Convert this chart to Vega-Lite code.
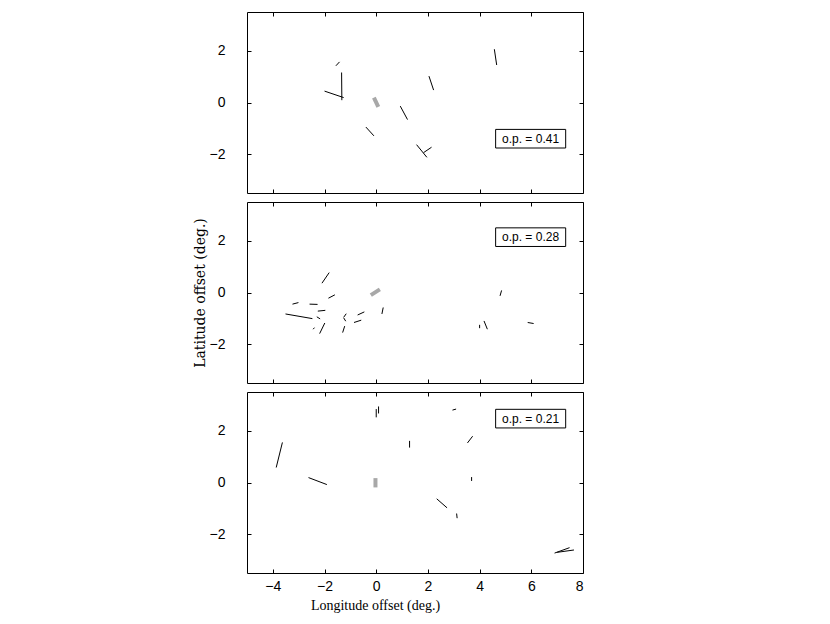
{
  "$schema": "https://vega.github.io/schema/vega-lite/v6.json",
  "background": "white",
  "padding": {"left": 192, "top": 11, "right": 5, "bottom": 5},
  "spacing": 7,
  "config": {
    "view": {"stroke": "black", "strokeWidth": 1},
    "axis": {
      "grid": false,
      "domain": false,
      "tickColor": "black",
      "tickSize": -4,
      "tickWidth": 1,
      "labelFont": "Liberation Sans",
      "labelFontSize": 14,
      "labelColor": "black",
      "titleColor": "black",
      "titleFontWeight": "normal"
    }
  },
  "datasets": {
    "segs": [
      {"panel": 1, "kind": "star", "x": -1.56, "y": 1.42, "x2": -1.42, "y2": 1.57},
      {"panel": 1, "kind": "star", "x": -1.34, "y": 1.16, "x2": -1.33, "y2": 0.09},
      {"panel": 1, "kind": "star", "x": -2.0, "y": 0.44, "x2": -1.26, "y2": 0.19},
      {"panel": 1, "kind": "star", "x": 2.04, "y": 1.02, "x2": 2.22, "y2": 0.48},
      {"panel": 1, "kind": "star", "x": 4.57, "y": 2.06, "x2": 4.66, "y2": 1.45},
      {"panel": 1, "kind": "star", "x": 0.93, "y": -0.14, "x2": 1.21, "y2": -0.66},
      {"panel": 1, "kind": "star", "x": -0.4, "y": -0.95, "x2": -0.09, "y2": -1.29},
      {"panel": 1, "kind": "star", "x": 1.56, "y": -1.63, "x2": 1.96, "y2": -2.12},
      {"panel": 1, "kind": "star", "x": 1.83, "y": -1.94, "x2": 2.14, "y2": -1.73},
      {"panel": 1, "kind": "ref", "x": -0.09, "y": 0.19, "x2": 0.08, "y2": -0.17},
      {"panel": 2, "kind": "star", "x": -2.10, "y": 0.36, "x2": -1.82, "y2": 0.77},
      {"panel": 2, "kind": "star", "x": -1.85, "y": -0.22, "x2": -1.60, "y2": -0.09},
      {"panel": 2, "kind": "star", "x": -3.24, "y": -0.45, "x2": -3.01, "y2": -0.39},
      {"panel": 2, "kind": "star", "x": -2.58, "y": -0.45, "x2": -2.27, "y2": -0.46},
      {"panel": 2, "kind": "star", "x": -3.51, "y": -0.83, "x2": -2.47, "y2": -1.01},
      {"panel": 2, "kind": "star", "x": -2.26, "y": -0.72, "x2": -1.97, "y2": -0.69},
      {"panel": 2, "kind": "star", "x": -2.30, "y": -0.94, "x2": -2.17, "y2": -1.02},
      {"panel": 2, "kind": "star", "x": -2.19, "y": -1.59, "x2": -1.99, "y2": -1.18},
      {"panel": 2, "kind": "star", "x": -2.44, "y": -1.42, "x2": -2.39, "y2": -1.36},
      {"panel": 2, "kind": "star", "x": -1.16, "y": -0.82, "x2": -1.26, "y2": -0.96},
      {"panel": 2, "kind": "star", "x": -1.26, "y": -0.98, "x2": -1.18, "y2": -1.11},
      {"panel": 2, "kind": "star", "x": -1.30, "y": -1.55, "x2": -1.22, "y2": -1.30},
      {"panel": 2, "kind": "star", "x": -0.72, "y": -0.87, "x2": -0.46, "y2": -0.75},
      {"panel": 2, "kind": "star", "x": -0.86, "y": -1.16, "x2": -0.58, "y2": -1.07},
      {"panel": 2, "kind": "star", "x": 0.22, "y": -0.83, "x2": 0.27, "y2": -0.58},
      {"panel": 2, "kind": "star", "x": 4.79, "y": -0.13, "x2": 4.85, "y2": 0.08},
      {"panel": 2, "kind": "star", "x": 4.0, "y": -1.38, "x2": 4.0, "y2": -1.25},
      {"panel": 2, "kind": "star", "x": 4.17, "y": -1.10, "x2": 4.30, "y2": -1.42},
      {"panel": 2, "kind": "star", "x": 5.86, "y": -1.16, "x2": 6.09, "y2": -1.20},
      {"panel": 2, "kind": "ref", "x": -0.21, "y": -0.10, "x2": 0.14, "y2": 0.12},
      {"panel": 3, "kind": "star", "x": -3.87, "y": 0.58, "x2": -3.63, "y2": 1.55},
      {"panel": 3, "kind": "star", "x": -2.62, "y": 0.19, "x2": -1.91, "y2": -0.08},
      {"panel": 3, "kind": "star", "x": 0.0, "y": 2.52, "x2": 0.0, "y2": 2.84},
      {"panel": 3, "kind": "star", "x": 0.09, "y": 2.67, "x2": 0.09, "y2": 2.94},
      {"panel": 3, "kind": "star", "x": 1.29, "y": 1.35, "x2": 1.29, "y2": 1.61},
      {"panel": 3, "kind": "star", "x": 2.95, "y": 2.80, "x2": 3.09, "y2": 2.84},
      {"panel": 3, "kind": "star", "x": 3.53, "y": 1.53, "x2": 3.73, "y2": 1.79},
      {"panel": 3, "kind": "star", "x": 3.69, "y": 0.21, "x2": 3.69, "y2": 0.06},
      {"panel": 3, "kind": "star", "x": 2.34, "y": -0.63, "x2": 2.74, "y2": -0.98},
      {"panel": 3, "kind": "star", "x": 3.11, "y": -1.20, "x2": 3.13, "y2": -1.38},
      {"panel": 3, "kind": "star", "x": 6.90, "y": -2.73, "x2": 7.48, "y2": -2.52},
      {"panel": 3, "kind": "star", "x": 7.0, "y": -2.70, "x2": 7.65, "y2": -2.61},
      {"panel": 3, "kind": "ref", "x": -0.03, "y": 0.17, "x2": -0.03, "y2": -0.19}
    ],
    "boxes": [
      {"panel": 1, "label": "o.p. = 0.41", "x": 4.62, "x2": 7.33, "y": -1.04, "y2": -1.76, "cx": 5.97, "cy": -1.40},
      {"panel": 2, "label": "o.p. = 0.28", "x": 4.62, "x2": 7.33, "y": 2.50, "y2": 1.78, "cx": 5.97, "cy": 2.14},
      {"panel": 3, "label": "o.p. = 0.21", "x": 4.62, "x2": 7.33, "y": 2.83, "y2": 2.11, "cx": 5.97, "cy": 2.47}
    ]
  },
  "vconcat": [
    {
      "width": 336, "height": 181,
      "resolve": {"axis": {"x": "independent", "y": "independent"}},
      "layer": [
        {
          "data": {"name": "segs"},
          "transform": [{"filter": "datum.panel == 1 && datum.kind == 'star'"}],
          "mark": {"type": "rule", "color": "black", "strokeWidth": 1},
          "encoding": {
            "x": {"field": "x", "type": "quantitative", "scale": {"domain": [-5, 8], "nice": false, "zero": false}, "axis": {"values": [-4, -2, 0, 2, 4, 6, 8], "labels": false, "title": null, "orient": "bottom"}},
            "y": {"field": "y", "type": "quantitative", "scale": {"domain": [-3.5, 3.5], "nice": false, "zero": false}, "axis": {"values": [-2, 0, 2], "labelPadding": 26, "title": null, "orient": "left"}},
            "x2": {"field": "x2"},
            "y2": {"field": "y2"}
          }
        },
        {
          "data": {"name": "segs"},
          "transform": [{"filter": "datum.panel == 1 && datum.kind == 'ref'"}],
          "mark": {"type": "rule", "color": "#a8a8a8", "strokeWidth": 4, "strokeCap": "butt"},
          "encoding": {
            "x": {"field": "x", "type": "quantitative", "axis": {"values": [-4, -2, 0, 2, 4, 6, 8], "labels": false, "title": null, "orient": "top"}},
            "y": {"field": "y", "type": "quantitative", "axis": {"values": [-2, 0, 2], "labels": false, "title": null, "orient": "right"}},
            "x2": {"field": "x2"},
            "y2": {"field": "y2"}
          }
        },
        {
          "data": {"name": "boxes"},
          "transform": [{"filter": "datum.panel == 1"}],
          "mark": {"type": "rect", "fill": "white", "stroke": "black", "strokeWidth": 1},
          "encoding": {
            "x": {"field": "x", "type": "quantitative", "axis": null},
            "x2": {"field": "x2"},
            "y": {"field": "y", "type": "quantitative", "axis": null},
            "y2": {"field": "y2"}
          }
        },
        {
          "data": {"name": "boxes"},
          "transform": [{"filter": "datum.panel == 1"}],
          "mark": {"type": "text", "font": "Liberation Sans", "fontSize": 12, "color": "black", "align": "center", "baseline": "middle"},
          "encoding": {
            "x": {"field": "cx", "type": "quantitative", "axis": null},
            "y": {"field": "cy", "type": "quantitative", "axis": null},
            "text": {"field": "label"}
          }
        }
      ]
    },
    {
      "width": 336, "height": 181,
      "resolve": {"axis": {"x": "independent", "y": "independent"}},
      "layer": [
        {
          "data": {"name": "segs"},
          "transform": [{"filter": "datum.panel == 2 && datum.kind == 'star'"}],
          "mark": {"type": "rule", "color": "black", "strokeWidth": 1},
          "encoding": {
            "x": {"field": "x", "type": "quantitative", "scale": {"domain": [-5, 8], "nice": false, "zero": false}, "axis": {"values": [-4, -2, 0, 2, 4, 6, 8], "labels": false, "title": null, "orient": "bottom"}},
            "y": {"field": "y", "type": "quantitative", "scale": {"domain": [-3.5, 3.5], "nice": false, "zero": false}, "axis": {"values": [-2, 0, 2], "labelPadding": 26, "title": "Latitude offset (deg.)", "titleFont": "DejaVu Serif", "titleFontSize": 14, "titlePadding": 2, "orient": "left"}},
            "x2": {"field": "x2"},
            "y2": {"field": "y2"}
          }
        },
        {
          "data": {"name": "segs"},
          "transform": [{"filter": "datum.panel == 2 && datum.kind == 'ref'"}],
          "mark": {"type": "rule", "color": "#a8a8a8", "strokeWidth": 4, "strokeCap": "butt"},
          "encoding": {
            "x": {"field": "x", "type": "quantitative", "axis": {"values": [-4, -2, 0, 2, 4, 6, 8], "labels": false, "title": null, "orient": "top"}},
            "y": {"field": "y", "type": "quantitative", "axis": {"values": [-2, 0, 2], "labels": false, "title": null, "orient": "right"}},
            "x2": {"field": "x2"},
            "y2": {"field": "y2"}
          }
        },
        {
          "data": {"name": "boxes"},
          "transform": [{"filter": "datum.panel == 2"}],
          "mark": {"type": "rect", "fill": "white", "stroke": "black", "strokeWidth": 1},
          "encoding": {
            "x": {"field": "x", "type": "quantitative", "axis": null},
            "x2": {"field": "x2"},
            "y": {"field": "y", "type": "quantitative", "axis": null},
            "y2": {"field": "y2"}
          }
        },
        {
          "data": {"name": "boxes"},
          "transform": [{"filter": "datum.panel == 2"}],
          "mark": {"type": "text", "font": "Liberation Sans", "fontSize": 12, "color": "black", "align": "center", "baseline": "middle"},
          "encoding": {
            "x": {"field": "cx", "type": "quantitative", "axis": null},
            "y": {"field": "cy", "type": "quantitative", "axis": null},
            "text": {"field": "label"}
          }
        }
      ]
    },
    {
      "width": 336, "height": 181,
      "resolve": {"axis": {"x": "independent", "y": "independent"}},
      "layer": [
        {
          "data": {"name": "segs"},
          "transform": [{"filter": "datum.panel == 3 && datum.kind == 'star'"}],
          "mark": {"type": "rule", "color": "black", "strokeWidth": 1},
          "encoding": {
            "x": {"field": "x", "type": "quantitative", "scale": {"domain": [-5, 8], "nice": false, "zero": false}, "axis": {"values": [-4, -2, 0, 2, 4, 6, 8], "labelPadding": 10, "title": "Longitude offset (deg.)", "titleFont": "Liberation Serif", "titleFontSize": 14, "titleX": 128, "titlePadding": 5, "orient": "bottom"}},
            "y": {"field": "y", "type": "quantitative", "scale": {"domain": [-3.5, 3.5], "nice": false, "zero": false}, "axis": {"values": [-2, 0, 2], "labelPadding": 26, "title": null, "orient": "left"}},
            "x2": {"field": "x2"},
            "y2": {"field": "y2"}
          }
        },
        {
          "data": {"name": "segs"},
          "transform": [{"filter": "datum.panel == 3 && datum.kind == 'ref'"}],
          "mark": {"type": "rule", "color": "#a8a8a8", "strokeWidth": 4, "strokeCap": "butt"},
          "encoding": {
            "x": {"field": "x", "type": "quantitative", "axis": {"values": [-4, -2, 0, 2, 4, 6, 8], "labels": false, "title": null, "orient": "top"}},
            "y": {"field": "y", "type": "quantitative", "axis": {"values": [-2, 0, 2], "labels": false, "title": null, "orient": "right"}},
            "x2": {"field": "x2"},
            "y2": {"field": "y2"}
          }
        },
        {
          "data": {"name": "boxes"},
          "transform": [{"filter": "datum.panel == 3"}],
          "mark": {"type": "rect", "fill": "white", "stroke": "black", "strokeWidth": 1},
          "encoding": {
            "x": {"field": "x", "type": "quantitative", "axis": null},
            "x2": {"field": "x2"},
            "y": {"field": "y", "type": "quantitative", "axis": null},
            "y2": {"field": "y2"}
          }
        },
        {
          "data": {"name": "boxes"},
          "transform": [{"filter": "datum.panel == 3"}],
          "mark": {"type": "text", "font": "Liberation Sans", "fontSize": 12, "color": "black", "align": "center", "baseline": "middle"},
          "encoding": {
            "x": {"field": "cx", "type": "quantitative", "axis": null},
            "y": {"field": "cy", "type": "quantitative", "axis": null},
            "text": {"field": "label"}
          }
        }
      ]
    }
  ]
}
